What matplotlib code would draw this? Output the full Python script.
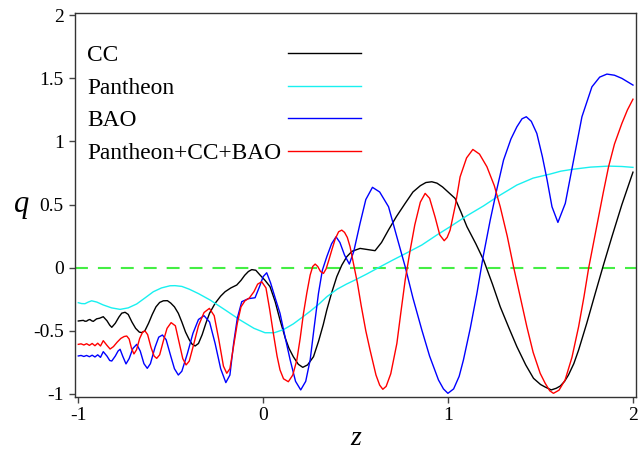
import matplotlib
matplotlib.use("Agg")
import matplotlib.pyplot as plt
from matplotlib.ticker import FixedLocator, FixedFormatter

plt.rcParams['font.family'] = ['Liberation Serif', 'DejaVu Serif']

# ---------------- data ----------------
z_cc = [-1.0, -0.985, -0.973, -0.964, -0.955, -0.946, -0.937, -0.928, -0.919, -0.91, -0.901,
        -0.885, -0.865, -0.845, -0.83, -0.819, -0.8, -0.78, -0.765, -0.747, -0.73, -0.71,
        -0.69, -0.67, -0.657, -0.64, -0.62, -0.6, -0.58, -0.56, -0.54, -0.518, -0.5, -0.48,
        -0.459, -0.44, -0.42, -0.4, -0.385, -0.368, -0.35, -0.33, -0.31, -0.29, -0.26, -0.23,
        -0.206, -0.175, -0.143, -0.12, -0.1, -0.08, -0.062, -0.04, -0.017, 0.01, 0.037, 0.065,
        0.091, 0.12, 0.14, 0.163, 0.19, 0.214, 0.24, 0.272, 0.3, 0.325, 0.344, 0.37, 0.398,
        0.425, 0.452, 0.48, 0.524, 0.56, 0.605, 0.64, 0.678, 0.72, 0.768, 0.81, 0.85, 0.88,
        0.912, 0.94, 0.97, 1.0, 1.038, 1.07, 1.102, 1.15, 1.192, 1.24, 1.282, 1.33, 1.372,
        1.42, 1.462, 1.5, 1.525, 1.558, 1.585, 1.607, 1.63, 1.651, 1.68, 1.706, 1.75, 1.796,
        1.84, 1.886, 1.94, 2.0]
q_cc = [-0.422, -0.419, -0.417, -0.424, -0.423, -0.414, -0.41, -0.42, -0.425, -0.415, -0.405,
        -0.4, -0.388, -0.42, -0.455, -0.472, -0.44, -0.39, -0.36, -0.353, -0.37, -0.43,
        -0.48, -0.51, -0.514, -0.5, -0.44, -0.37, -0.31, -0.275, -0.262, -0.261, -0.28, -0.31,
        -0.361, -0.43, -0.51, -0.57, -0.605, -0.62, -0.6, -0.53, -0.44, -0.36, -0.282, -0.225,
        -0.19, -0.16, -0.137, -0.1, -0.06, -0.03, -0.015, -0.02, -0.058, -0.1, -0.15, -0.27,
        -0.414, -0.56, -0.64, -0.705, -0.765, -0.789, -0.77, -0.705, -0.58, -0.45, -0.335, -0.2, -0.071,
        0.02, 0.087, 0.13, 0.153, 0.145, 0.135, 0.2, 0.3, 0.404, 0.51, 0.6, 0.65, 0.675,
        0.681, 0.67, 0.64, 0.6, 0.549, 0.44, 0.325, 0.19, 0.061, -0.13, -0.309, -0.48, -0.625,
        -0.77, -0.876, -0.925, -0.945, -0.968, -0.955, -0.937, -0.9, -0.85, -0.76, -0.652, -0.44, -0.203,
        0.02, 0.245, 0.5, 0.757]

z_pan = [-1.0, -0.982, -0.964, -0.946, -0.928, -0.9, -0.865, -0.82, -0.774, -0.73, -0.684, -0.64,
         -0.594, -0.55, -0.504, -0.477, -0.44, -0.4, -0.35, -0.287, -0.2, -0.125, -0.05, 0.01, 0.06,
         0.11, 0.163, 0.209, 0.254, 0.3, 0.344, 0.4, 0.45, 0.497, 0.56, 0.623, 0.7, 0.78, 0.858,
         0.94, 1.011, 1.1, 1.192, 1.264, 1.372, 1.46, 1.552, 1.61, 1.67, 1.77, 1.868, 1.94, 2.0]
q_pan = [-0.277, -0.284, -0.285, -0.272, -0.262, -0.272, -0.295, -0.318, -0.33, -0.318, -0.287, -0.24,
         -0.19, -0.16, -0.143, -0.142, -0.148, -0.17, -0.205, -0.256, -0.34, -0.414, -0.48, -0.515, -0.515,
         -0.49, -0.445, -0.395, -0.345, -0.29, -0.23, -0.17, -0.13, -0.097, -0.05, 0.0, 0.06, 0.12, 0.18,
         0.26, 0.325, 0.41, 0.49, 0.56, 0.655, 0.71, 0.742, 0.765, 0.779, 0.797, 0.805, 0.802, 0.795]

z_bao = [-1.0, -0.985, -0.97, -0.955, -0.94, -0.925, -0.91, -0.895, -0.88, -0.865, -0.845, -0.83,
         -0.819, -0.8, -0.785, -0.774, -0.76, -0.742, -0.725, -0.705, -0.684, -0.665, -0.645, -0.627,
         -0.61, -0.585, -0.565, -0.545, -0.525, -0.5, -0.48, -0.459, -0.44, -0.41, -0.38, -0.35, -0.32,
         -0.29, -0.26, -0.23, -0.202, -0.18, -0.16, -0.14, -0.116, -0.08, -0.044, -0.02, 0.0, 0.019,
         0.04, 0.065, 0.091, 0.12, 0.146, 0.175, 0.203, 0.23, 0.254, 0.275, 0.299, 0.32, 0.344, 0.37,
         0.394, 0.415, 0.44, 0.466, 0.49, 0.524, 0.555, 0.591, 0.63, 0.678, 0.72, 0.768, 0.81, 0.858,
         0.9, 0.948, 0.975, 0.999, 1.03, 1.06, 1.083, 1.12, 1.156, 1.19, 1.228, 1.265, 1.3, 1.34,
         1.372, 1.4, 1.423, 1.45, 1.48, 1.51, 1.535, 1.562, 1.594, 1.634, 1.679, 1.724, 1.778, 1.82,
         1.859, 1.9, 1.94, 2.0]
q_bao = [-0.699, -0.695, -0.703, -0.695, -0.705, -0.693, -0.707, -0.69, -0.71, -0.665, -0.7, -0.735,
         -0.739, -0.7, -0.66, -0.646, -0.7, -0.762, -0.72, -0.64, -0.607, -0.66, -0.76, -0.797,
         -0.76, -0.63, -0.55, -0.533, -0.57, -0.7, -0.8, -0.85, -0.82, -0.68, -0.52, -0.41, -0.38,
         -0.43, -0.6, -0.8, -0.91, -0.85, -0.6, -0.4, -0.269, -0.245, -0.238, -0.15, -0.07, -0.04,
         -0.12, -0.24, -0.361, -0.56, -0.731, -0.9, -0.968, -0.9, -0.731, -0.48, -0.203, -0.02, 0.087, 0.19,
         0.245, 0.2, 0.1, 0.029, 0.13, 0.352, 0.54, 0.637, 0.6, 0.483, 0.26, 0.008, -0.24, -0.493,
         -0.7, -0.889, -0.96, -0.995, -0.96, -0.86, -0.731, -0.48, -0.203, 0.09, 0.378, 0.63, 0.853, 1.02,
         1.116, 1.18, 1.196, 1.16, 1.064, 0.88, 0.7, 0.483, 0.359, 0.51, 0.853, 1.196, 1.433, 1.51,
         1.534, 1.525, 1.5, 1.447]

z_all = [-1.0, -0.985, -0.97, -0.955, -0.94, -0.925, -0.91, -0.895, -0.88, -0.865, -0.845, -0.828,
         -0.81, -0.79, -0.77, -0.752, -0.738, -0.725, -0.712, -0.699, -0.685, -0.668, -0.652, -0.639,
         -0.625, -0.607, -0.59, -0.576, -0.56, -0.54, -0.52, -0.498, -0.475, -0.455, -0.435, -0.417,
         -0.4, -0.38, -0.35, -0.32, -0.291, -0.265, -0.24, -0.215, -0.197, -0.18, -0.16, -0.14, -0.12,
         -0.098, -0.075, -0.05, -0.03, -0.008, 0.015, 0.035, 0.055, 0.075, 0.091, 0.11, 0.136, 0.16,
         0.182, 0.2, 0.218, 0.236, 0.254, 0.268, 0.281, 0.295, 0.31, 0.326, 0.34, 0.355, 0.371, 0.39,
         0.408, 0.425, 0.44, 0.455, 0.47, 0.49, 0.51, 0.53, 0.555, 0.578, 0.61, 0.63, 0.647, 0.665,
         0.69, 0.723, 0.745, 0.768, 0.795, 0.82, 0.85, 0.876, 0.9, 0.93, 0.955, 0.979, 0.995, 1.011,
         1.04, 1.065, 1.1, 1.134, 1.17, 1.21, 1.25, 1.282, 1.32, 1.354, 1.39, 1.426, 1.46, 1.498,
         1.525, 1.55, 1.57, 1.6, 1.633, 1.67, 1.706, 1.735, 1.76, 1.79, 1.814, 1.84, 1.868, 1.9,
         1.94, 1.97, 2.0]
q_all = [-0.607, -0.603, -0.612, -0.602, -0.615, -0.6, -0.618, -0.598, -0.62, -0.578, -0.615, -0.644,
         -0.625, -0.59, -0.56, -0.545, -0.541, -0.565, -0.64, -0.683, -0.65, -0.56, -0.51, -0.501,
         -0.53, -0.63, -0.7, -0.718, -0.69, -0.58, -0.48, -0.435, -0.46, -0.59, -0.72, -0.77,
         -0.74, -0.63, -0.46, -0.355, -0.322, -0.38, -0.57, -0.78, -0.836, -0.8, -0.62, -0.44, -0.31,
         -0.261, -0.24, -0.19, -0.13, -0.111, -0.16, -0.33, -0.52, -0.7, -0.81, -0.88, -0.903, -0.85,
         -0.731, -0.56, -0.361, -0.2, -0.058, 0.01, 0.029, 0.01, -0.03, -0.045, -0.01, 0.06, 0.14, 0.23,
         0.285, 0.298, 0.28, 0.24, 0.166, 0.02, -0.124, -0.3, -0.5, -0.652, -0.85, -0.93, -0.963, -0.94,
         -0.84, -0.6, -0.35, -0.097, 0.14, 0.34, 0.52, 0.589, 0.55, 0.4, 0.26, 0.214, 0.24, 0.298,
         0.5, 0.72, 0.87, 0.937, 0.9, 0.8, 0.65, 0.483, 0.25, 0.008, -0.23, -0.467, -0.67, -0.836,
         -0.915, -0.975, -0.995, -0.97, -0.889, -0.71, -0.467, -0.23, -0.005, 0.22, 0.404, 0.6, 0.8, 0.98,
         1.143, 1.25, 1.335]

labels = ["CC", "Pantheon", "BAO", "Pantheon+CC+BAO"]
colors = ["#000000", "#19F0F0", "#0000FF", "#FF0000"]

x_ticks = [-1, 0, 1, 2]
x_ticklabels = ["-1", "0", "1", "2"]
y_ticks = [-1, -0.5, 0, 0.5, 1, 1.5, 2]
y_ticklabels = ["-1", "-0.5", "0", "0.5", "1", "1.5", "2"]

# ---------------- figure ----------------
DPI = 100
fig = plt.figure(figsize=(6.43, 4.55), dpi=DPI)
ax = fig.add_axes([0.1166, 0.1275, 0.8724, 0.8445])

series = [(z_cc, q_cc), (z_pan, q_pan), (z_bao, q_bao), (z_all, q_all)]
for (zz, qq), lab, col in zip(series, labels, colors):
    ax.plot(zz, qq, color=col, lw=1.0, label=lab, solid_joinstyle='round')

ax.axhline(0, color="#44EE44", lw=1.5, dashes=(6.2, 4.8), zorder=0)

ax.set_xlim(-1.018, 2.016)
ax.set_ylim(-1.024, 2.02)

ax.xaxis.set_major_locator(FixedLocator(x_ticks))
ax.xaxis.set_major_formatter(FixedFormatter(x_ticklabels))
ax.yaxis.set_major_locator(FixedLocator(y_ticks))
ax.yaxis.set_major_formatter(FixedFormatter(y_ticklabels))
ax.tick_params(direction='out', length=4, width=1, colors='#444444', labelcolor='black',
               labelsize=14, top=False, right=False)
ax.tick_params(axis='y', pad=4)
ax.tick_params(axis='x', pad=3)
for s in ax.spines.values():
    s.set_color('#333333')
    s.set_linewidth(1.0)

ax.set_xlabel("z", fontsize=20, style='italic', labelpad=2)
ax.set_ylabel("q", fontsize=22, style='italic', rotation=0, labelpad=8, va='center')

LEG_FS = 16.8
PAD = 0.3
leg = ax.legend(loc='upper left', bbox_to_anchor=(0.022, 0.917), frameon=False,
                markerfirst=False, fontsize=LEG_FS, handlelength=3.1, handletextpad=PAD,
                labelspacing=0.49, borderpad=0, borderaxespad=0)

# left-align the legend texts while keeping the sample lines in one column
fig.canvas.draw()
renderer = fig.canvas.get_renderer()
widths = [t.get_window_extent(renderer).width for t in leg.get_texts()]
maxw = max(widths)
for col in leg._legend_handle_box.get_children():
    for row, w in zip(col.get_children(), widths):
        row.sep = PAD * LEG_FS + (maxw - w) * 72.0 / DPI

fig.savefig("out.png", dpi=DPI)
